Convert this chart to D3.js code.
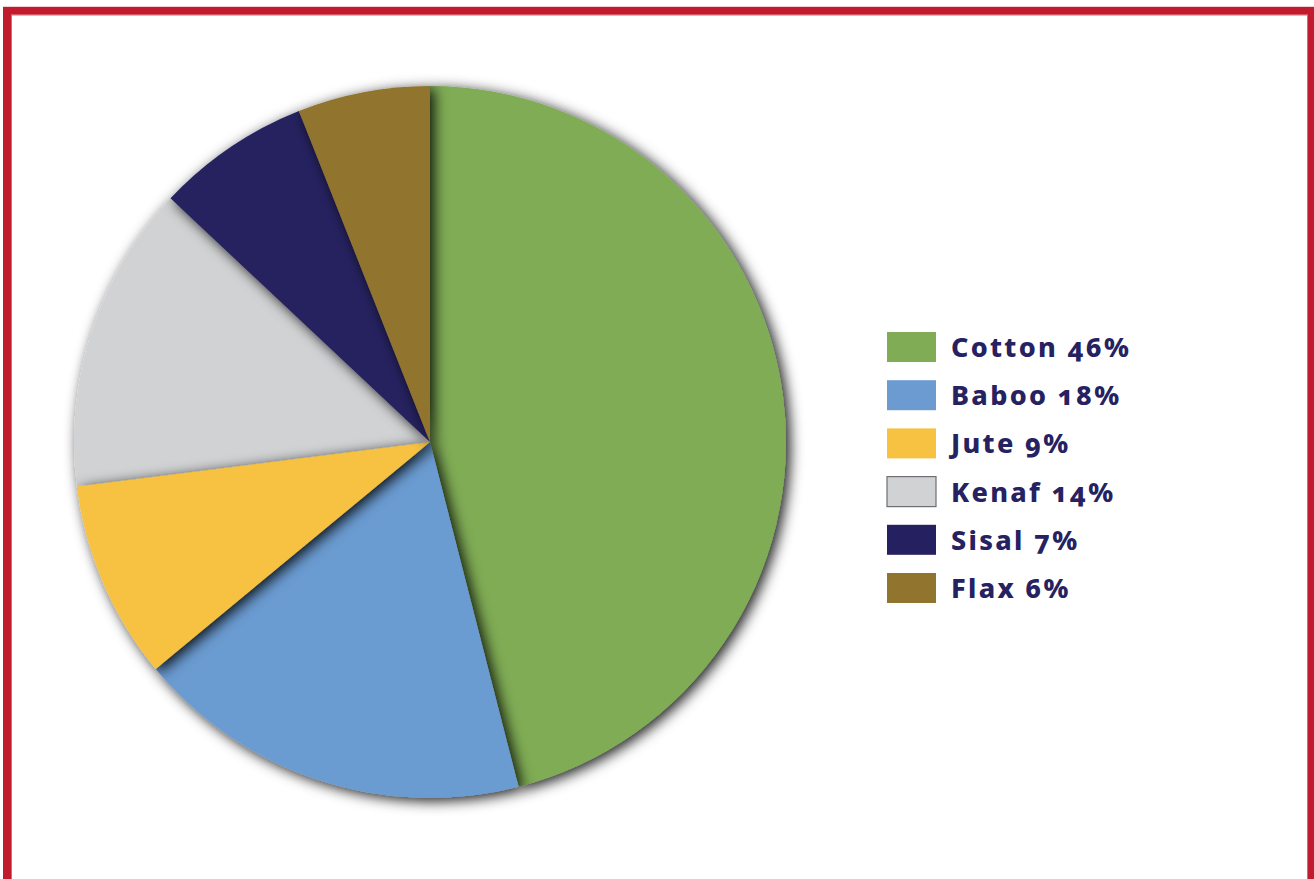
<!DOCTYPE html>
<html>
<head>
<meta charset="utf-8">
<script src="https://cdn.jsdelivr.net/npm/d3@7"></script>
<style>
  html, body { margin: 0; padding: 0; background: #fff; }
  svg { display: block; }
</style>
</head>
<body>
<svg id="chart" width="1314" height="879"></svg>
<script>
// Natural fibre shares (percent)
const categories = ["Cotton", "Baboo", "Jute", "Kenaf", "Sisal", "Flax"];
const values = [46, 18, 9, 14, 7, 6];
const colors = ["#7fac55", "#6b9bd1", "#f7c242", "#d1d2d4", "#252060", "#91742e"];
// Paint order of slices so that the soft shadows overlap the right neighbours
const paintOrder = ["Cotton", "Baboo", "Kenaf", "Jute", "Sisal", "Flax"];

const svg = d3.select("#chart");

// Frame
svg.append("rect")
  .attr("x", 7).attr("y", 10.8)
  .attr("width", 1305).attr("height", 900)
  .attr("fill", "none").attr("stroke", "#c01c2e").attr("stroke-width", 8);
svg.append("rect")
  .attr("x", 11.5).attr("y", 15)
  .attr("width", 1296).attr("height", 900)
  .attr("fill", "none").attr("stroke", "#dc6876").attr("stroke-width", 1);

// Soft drop shadow for slices
const defs = svg.append("defs");
const f = defs.append("filter").attr("id", "shadow")
  .attr("x", "-20%").attr("y", "-20%").attr("width", "140%").attr("height", "140%");
f.append("feDropShadow")
  .attr("dx", 4).attr("dy", 3).attr("stdDeviation", 7)
  .attr("flood-color", "#000").attr("flood-opacity", 0.9);

const cx = 430, cy = 442, r = 356;
const data = categories.map((c, i) => ({ name: c, value: values[i], color: colors[i] }));

const pie = d3.pie().value(d => d.value).sort(null);
const arc = d3.arc().innerRadius(0).outerRadius(r);
const arcs = pie(data);
const byName = new Map(arcs.map(a => [a.data.name, a]));

const g = svg.append("g").attr("transform", `translate(${cx},${cy})`);
g.selectAll("path.slice")
  .data(paintOrder.map(n => byName.get(n)))
  .join("path")
  .attr("class", "slice")
  .attr("d", arc)
  .attr("fill", d => d.data.color)
  .attr("filter", "url(#shadow)");

// Legend
const y = d3.scaleLinear().domain([0, 1]).range([332, 380.2]);
const items = svg.append("g").selectAll("g.item").data(data).join("g")
  .attr("class", "item")
  .attr("transform", (d, i) => `translate(887,${y(i)})`);
items.append("rect")
  .attr("width", 49).attr("height", 30)
  .attr("fill", d => d.color)
  .attr("stroke", d => d.name === "Kenaf" ? "#6d6e71" : "none")
  .attr("stroke-width", 1.2);
items.append("text")
  .attr("x", 64).attr("y", 25)
  .attr("font-family", "'Noto Sans', sans-serif")
  .attr("font-weight", 800)
  .attr("font-size", 27)
  .attr("letter-spacing", 2.3)
  .style("font-variant-numeric", "oldstyle-nums")
  .attr("fill", "#262262")
  .text(d => `${d.name} ${d.value}%`);
</script>
</body>
</html>
